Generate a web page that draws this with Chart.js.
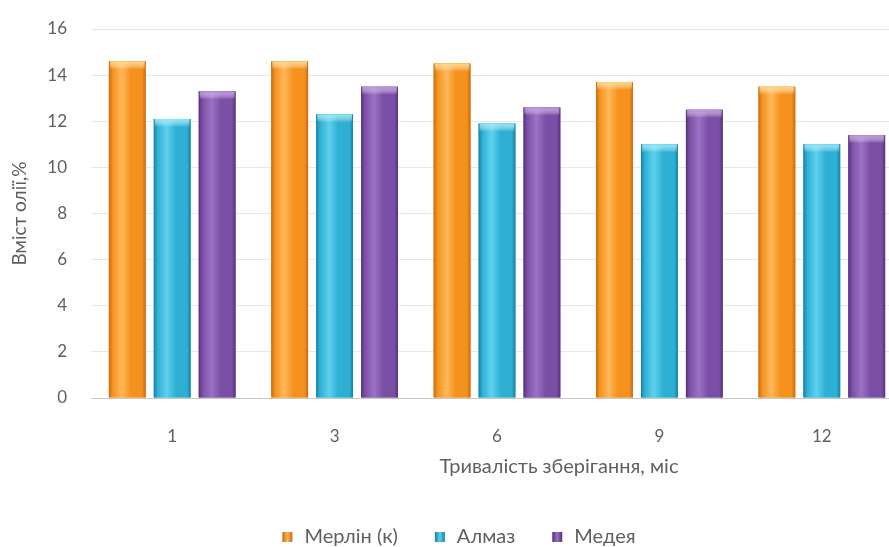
<!DOCTYPE html>
<html>
<head>
<meta charset="utf-8">
<script src="https://cdn.jsdelivr.net/npm/chart.js@4/dist/chart.umd.min.js"></script>
<style>
  html, body { margin: 0; padding: 0; background: #ffffff; overflow: hidden; }
  #wrap { position: relative; width: 912px; height: 547px; }
</style>
</head>
<body>
<div id="wrap"><canvas id="c" width="912" height="547"></canvas></div>
<script>
// Storage period, months
const months = ['1', '3', '6', '9', '12'];
// Oil content, %, per variety
const merlin = [14.6, 14.6, 14.5, 13.7, 13.5];
const almaz  = [12.1, 12.3, 11.9, 11.0, 11.0];
const medeya = [13.3, 13.5, 12.6, 12.5, 11.4];
const seriesNames = ['Мерлін (к)', 'Алмаз', 'Медея'];
const yTicks = [0, 2, 4, 6, 8, 10, 12, 14, 16];

const FONT = 'Lato, "Open Sans", sans-serif';
const TEXT = '#5f5f5f';
const PLOT_TOP = 29;

const palettes = [
  { base: '#f5921e', dark: '#c86a10', light: '#ffb85a', top: '#ffd27a' },
  { base: '#2eb0d4', dark: '#18809e', light: '#5fd0ee', top: '#8be4f7' },
  { base: '#7b4fa6', dark: '#55317a', light: '#9c72c4', top: '#b68fdc' }
];

// Cylinder-like shading on every bar
const shading = {
  id: 'shading',
  afterDatasetsDraw(chart) {
    const ctx = chart.ctx;
    chart.data.datasets.forEach((ds, di) => {
      const p = palettes[di];
      chart.getDatasetMeta(di).data.forEach(bar => {
        const l = bar.x - bar.width / 2, r = bar.x + bar.width / 2;
        const t = bar.y, b = bar.base;
        const g = ctx.createLinearGradient(l, 0, r, 0);
        g.addColorStop(0, p.dark);
        g.addColorStop(0.1, p.base);
        g.addColorStop(0.35, p.light);
        g.addColorStop(0.6, p.base);
        g.addColorStop(0.9, p.base);
        g.addColorStop(1, p.dark);
        ctx.save();
        ctx.fillStyle = g;
        ctx.fillRect(l, t, r - l, b - t);
        const cap = ctx.createLinearGradient(0, t, 0, t + 8);
        cap.addColorStop(0, p.top);
        cap.addColorStop(1, 'rgba(255,255,255,0)');
        ctx.fillStyle = cap;
        ctx.fillRect(l + 1, t, r - l - 2, 8);
        ctx.restore();
      });
    });
  }
};

// Axis title under the month labels and the series key at the bottom
const captions = {
  id: 'captions',
  afterDraw(chart) {
    const ctx = chart.ctx;
    ctx.save();
    ctx.fillStyle = TEXT;
    ctx.textBaseline = 'middle';
    ctx.font = '20px ' + FONT;
    ctx.textAlign = 'center';
    ctx.fillText('Тривалість зберігання, міс', 559, 467);

    ctx.textAlign = 'left';
    const box = 10, gap = 12, spacing = 37, y = 537;
    const items = chart.data.datasets.map((ds, i) => ({
      text: ds.label, w: box + gap + ctx.measureText(ds.label).width, p: palettes[i]
    }));
    const total = items.reduce((s, it) => s + it.w, 0) + spacing * (items.length - 1);
    let x = 459 - total / 2;
    items.forEach(it => {
      const g = ctx.createLinearGradient(x, 0, x + box, 0);
      g.addColorStop(0, it.p.dark);
      g.addColorStop(0.5, it.p.light);
      g.addColorStop(1, it.p.dark);
      ctx.fillStyle = g;
      ctx.fillRect(x, y - box / 2, box, box);
      ctx.fillStyle = TEXT;
      ctx.fillText(it.text, x + box + gap, y);
      x += it.w + spacing;
    });
    ctx.restore();
  }
};

const chart = new Chart(document.getElementById('c'), {
  type: 'bar',
  data: {
    labels: months,
    datasets: [merlin, almaz, medeya].map((vals, i) => ({
      label: seriesNames[i],
      data: vals,
      backgroundColor: palettes[i].base,
      borderWidth: 0,
      categoryPercentage: 0.83,
      barPercentage: 0.82
    }))
  },
  options: {
    responsive: false,
    animation: false,
    layout: { autoPadding: false, padding: { top: PLOT_TOP, right: 9, left: 0, bottom: 0 } },
    plugins: {
      tooltip: { enabled: false },
      legend: { display: false }
    },
    scales: {
      x: {
        grid: { display: false },
        border: { color: '#c8c8c8', width: 1 },
        ticks: { font: { family: FONT, size: 17 }, color: TEXT, padding: 20 },
        afterFit(s) { s.height = 149; }
      },
      y: {
        min: 0,
        max: 16,
        afterBuildTicks(s) { s.ticks = yTicks.map(v => ({ value: v })); },
        afterFit(s) { s.width = 91; },
        grid: { color: '#e8e8e8', drawTicks: true, tickLength: 9, tickColor: 'rgba(0,0,0,0)' },
        border: { display: false },
        ticks: { font: { family: FONT, size: 17 }, color: TEXT, padding: 15 },
        title: {
          display: true,
          text: 'Вміст олії,%',
          font: { family: FONT, size: 19 },
          color: TEXT,
          padding: { top: 8, bottom: 0 }
        }
      }
    }
  },
  plugins: [shading, captions]
});

// Keep the plot top where the 16 % line belongs
const drift = chart.chartArea.top - PLOT_TOP;
if (Math.abs(drift) > 0.5) {
  chart.options.layout.padding.top = PLOT_TOP - drift;
  chart.update();
}
</script>
</body>
</html>
